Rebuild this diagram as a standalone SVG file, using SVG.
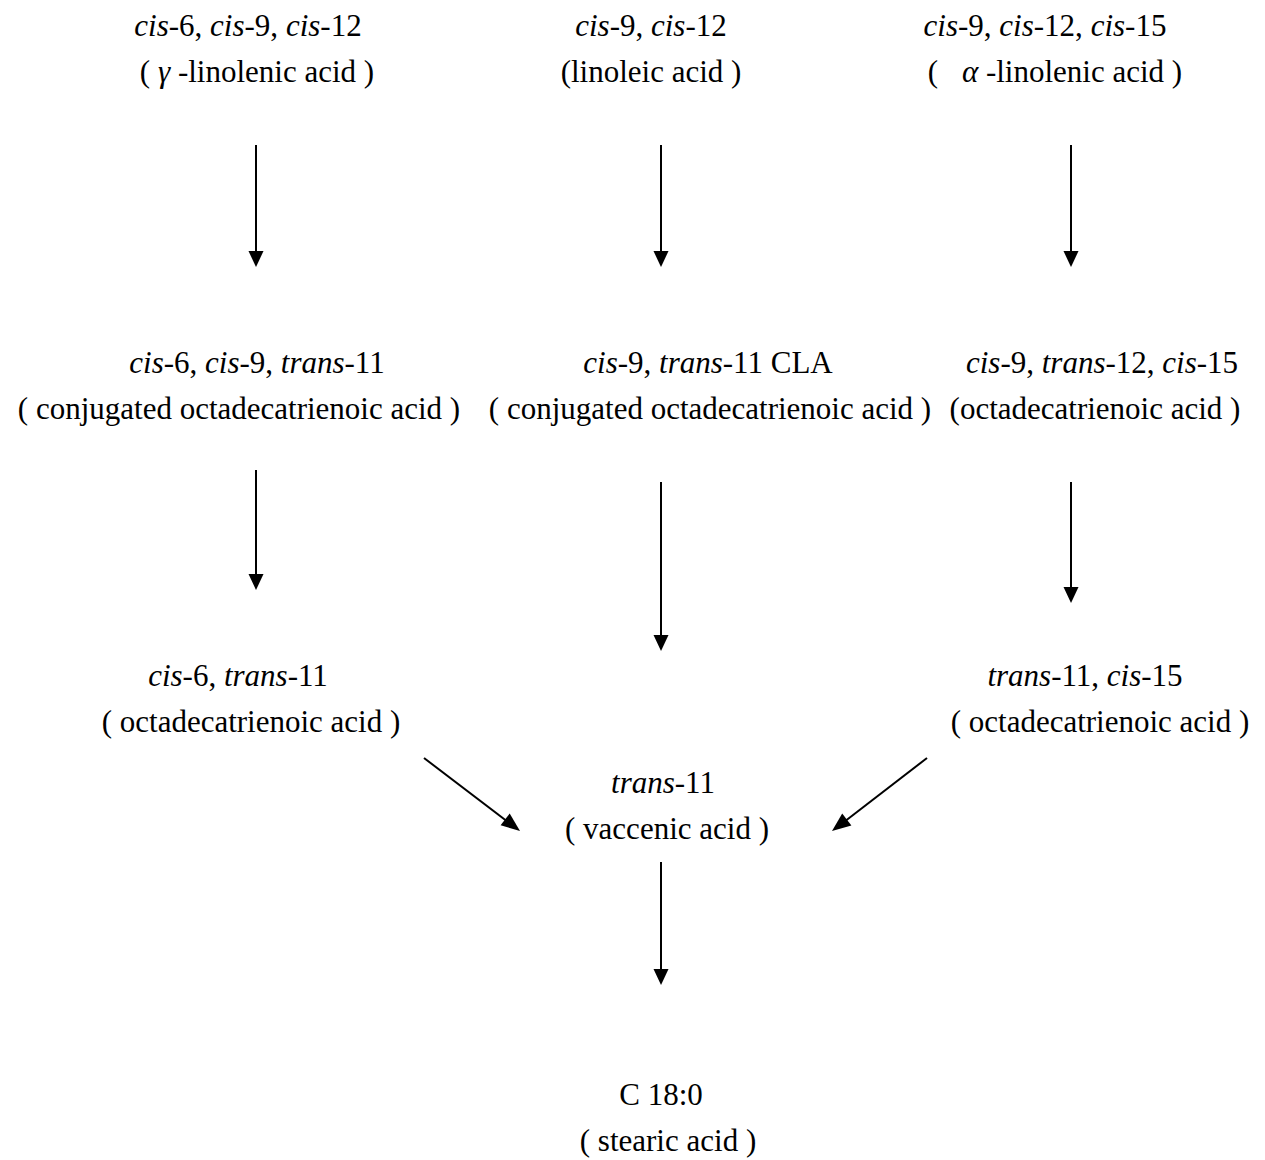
<svg xmlns="http://www.w3.org/2000/svg" width="1265" height="1160" viewBox="0 0 1265 1160">
<rect width="1265" height="1160" fill="#fff"/>
<g id="n1"><text style="font-family:'Liberation Serif';font-size:31px" text-anchor="middle" x="248" y="36"><tspan font-style="italic">cis</tspan>-6, <tspan font-style="italic">cis</tspan>-9, <tspan font-style="italic">cis</tspan>-12</text><text style="font-family:'Liberation Serif';font-size:31px" text-anchor="middle" x="257" y="82">( <tspan font-style="italic">γ</tspan> -linolenic acid )</text></g>
<g id="n2"><text style="font-family:'Liberation Serif';font-size:31px" text-anchor="middle" x="651" y="36"><tspan font-style="italic">cis</tspan>-9, <tspan font-style="italic">cis</tspan>-12</text><text style="font-family:'Liberation Serif';font-size:31px" text-anchor="middle" x="651" y="82">(linoleic acid )</text></g>
<g id="n3"><text style="font-family:'Liberation Serif';font-size:31px" text-anchor="middle" x="1045" y="36"><tspan font-style="italic">cis</tspan>-9, <tspan font-style="italic">cis</tspan>-12, <tspan font-style="italic">cis</tspan>-15</text><text style="font-family:'Liberation Serif';font-size:31px" text-anchor="middle" x="1055" y="82">( <tspan dx="16" font-style="italic">α</tspan> -linolenic acid )</text></g>
<g id="n4"><text style="font-family:'Liberation Serif';font-size:31px" text-anchor="middle" x="257" y="373"><tspan font-style="italic">cis</tspan>-6, <tspan font-style="italic">cis</tspan>-9, <tspan font-style="italic">trans</tspan>-11</text><text style="font-family:'Liberation Serif';font-size:31px" text-anchor="middle" x="239" y="419">( conjugated octadecatrienoic acid )</text></g>
<g id="n5"><text style="font-family:'Liberation Serif';font-size:31px" text-anchor="middle" x="708" y="373"><tspan font-style="italic">cis</tspan>-9, <tspan font-style="italic">trans</tspan>-11 CLA</text><text style="font-family:'Liberation Serif';font-size:31px" text-anchor="middle" x="710" y="419">( conjugated octadecatrienoic acid )</text></g>
<g id="n6"><text style="font-family:'Liberation Serif';font-size:31px" text-anchor="middle" x="1102" y="373"><tspan font-style="italic">cis</tspan>-9, <tspan font-style="italic">trans</tspan>-12, <tspan font-style="italic">cis</tspan>-15</text><text style="font-family:'Liberation Serif';font-size:31px" text-anchor="middle" x="1095" y="419">(octadecatrienoic acid )</text></g>
<g id="n7"><text style="font-family:'Liberation Serif';font-size:31px" text-anchor="middle" x="238" y="686"><tspan font-style="italic">cis</tspan>-6, <tspan font-style="italic">trans</tspan>-11</text><text style="font-family:'Liberation Serif';font-size:31px" text-anchor="middle" x="251" y="732">( octadecatrienoic acid )</text></g>
<g id="n8"><text style="font-family:'Liberation Serif';font-size:31px" text-anchor="middle" x="1085" y="686"><tspan font-style="italic">trans</tspan>-11, <tspan font-style="italic">cis</tspan>-15</text><text style="font-family:'Liberation Serif';font-size:31px" text-anchor="middle" x="1100" y="732">( octadecatrienoic acid )</text></g>
<g id="n9"><text style="font-family:'Liberation Serif';font-size:31px" text-anchor="middle" x="663" y="793"><tspan font-style="italic">trans</tspan>-11</text><text style="font-family:'Liberation Serif';font-size:31px" text-anchor="middle" x="667" y="839">( vaccenic acid )</text></g>
<g id="n10"><text style="font-family:'Liberation Serif';font-size:31px" text-anchor="middle" x="661" y="1105">C 18:0</text><text style="font-family:'Liberation Serif';font-size:31px" text-anchor="middle" x="668" y="1151">( stearic acid )</text></g>
<g id="connectors" stroke="#000" stroke-width="2" fill="#000">
<line x1="256" y1="145" x2="256" y2="252"/><polygon stroke="none" points="248.5,251 263.5,251 256,267"/>
<line x1="661" y1="145" x2="661" y2="252"/><polygon stroke="none" points="653.5,251 668.5,251 661,267"/>
<line x1="1071" y1="145" x2="1071" y2="252"/><polygon stroke="none" points="1063.5,251 1078.5,251 1071,267"/>
<line x1="256" y1="470" x2="256" y2="575"/><polygon stroke="none" points="248.5,574 263.5,574 256,590"/>
<line x1="661" y1="482" x2="661" y2="636"/><polygon stroke="none" points="653.5,635 668.5,635 661,651"/>
<line x1="1071" y1="482" x2="1071" y2="588"/><polygon stroke="none" points="1063.5,587 1078.5,587 1071,603"/>
<line x1="424" y1="758" x2="508" y2="822"/><polygon stroke="none" points="520,831 500.6,825.3 509.7,813.4"/>
<line x1="927" y1="758" x2="844" y2="822"/><polygon stroke="none" points="832,831 842.2,813.5 851.4,825.4"/>
<line x1="661" y1="862" x2="661" y2="970"/><polygon stroke="none" points="653.5,969 668.5,969 661,985"/>
</g>
</svg>
